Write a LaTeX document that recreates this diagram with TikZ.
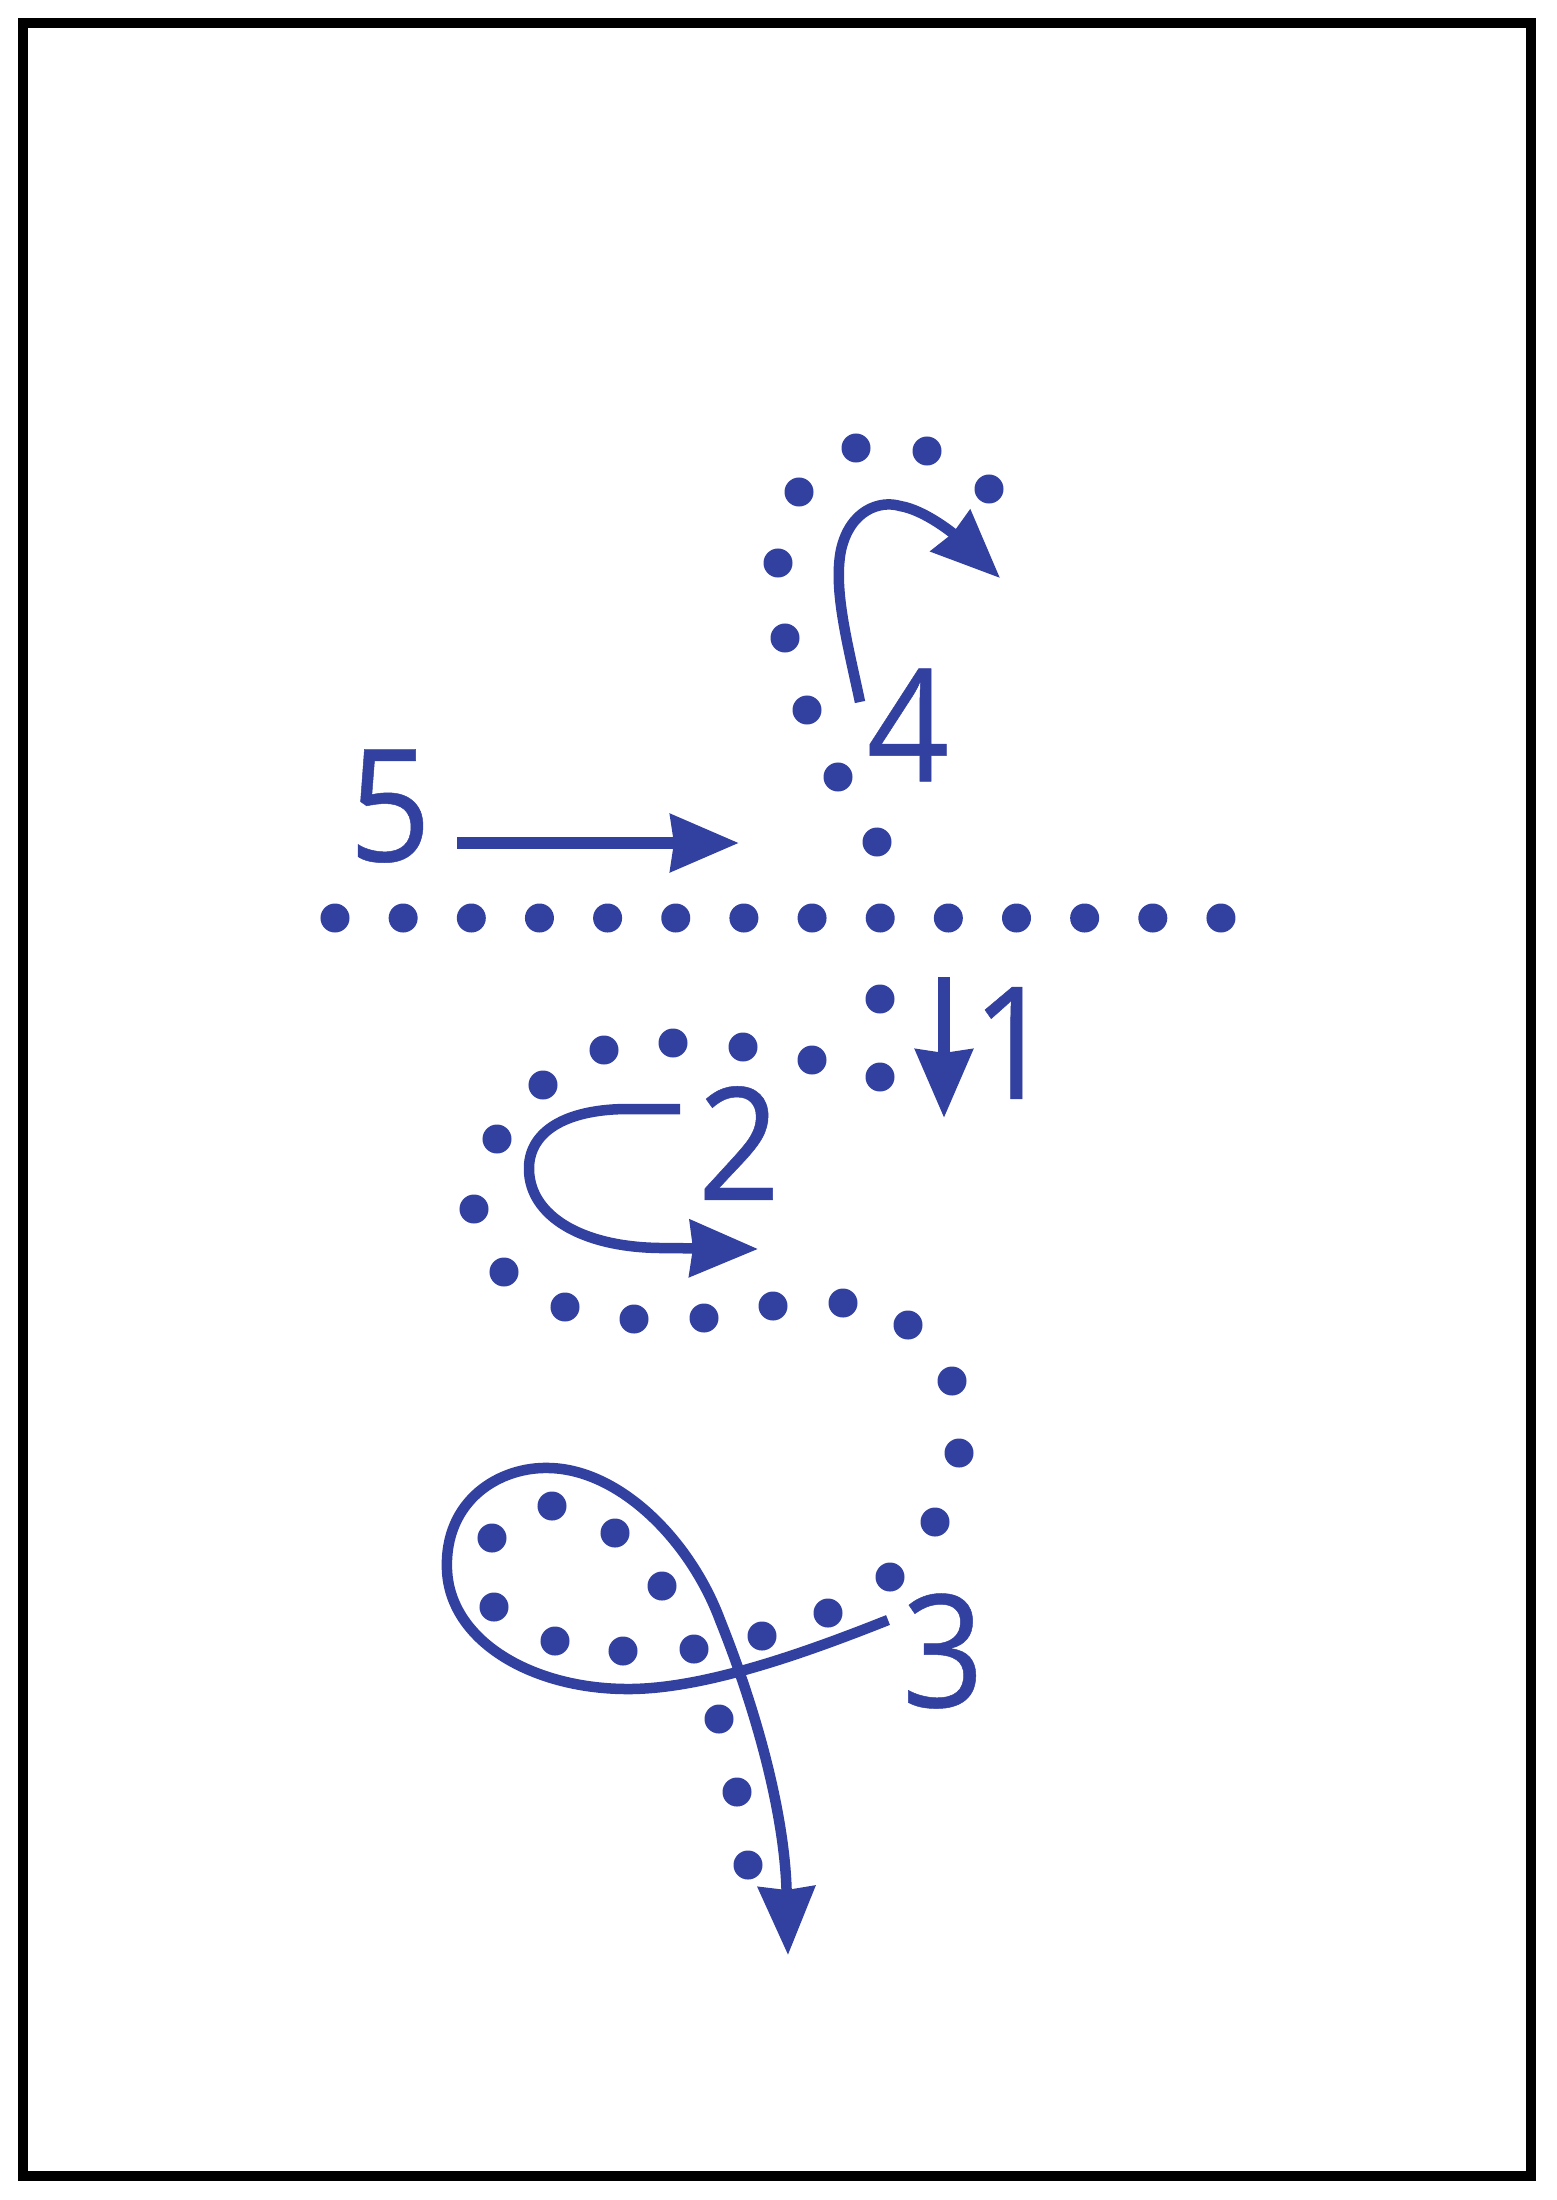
\documentclass[tikz,border=0pt]{standalone}
\usepackage{fontspec}
\setmainfont{Open Sans}
\newfontfamily\numfont[FakeStretch=0.92, FakeBold=0.3]{Open Sans}
\usepackage{tikz}
\usetikzlibrary{arrows.meta, calc}
\definecolor{inkblue}{RGB}{50,64,160}

\begin{document}
\begin{tikzpicture}[x=0.01cm, y=-0.01cm,
    dot/.style={fill=inkblue},
    move/.style={draw=inkblue, line width=0.105cm, -{Stealth[length=0.68cm, width=0.56cm, inset=0.03cm]}},
    num/.style={text=inkblue, inner sep=0pt, font=\numfont\fontsize{44.6}{46}\selectfont}]
    \useasboundingbox (0,0) rectangle (1556,2200);
    \draw[line width=0.1cm] (23,23) rectangle (1531,2176);
    % row of dots across
    \foreach \i in {0,...,13} {
        \fill[dot] (335+68.15*\i, 918) circle[radius=0.145cm];
    }
    % dots above the row (4)
    \foreach \x/\y in {856/448, 927/451, 799/492, 989/489, 778/563, 785/638, 807/710, 838/777, 877/842} {
        \fill[dot] (\x,\y) circle[radius=0.145cm];
    }
    % dots below the row (1, 2)
    \foreach \x/\y in {880/999, 880/1077, 812/1060, 743/1047, 673/1043, 604/1050, 543/1085, 497/1139, 474/1209,
        504/1272, 565/1307, 634/1319, 704/1318, 773/1306, 843/1303, 908/1325} {
        \fill[dot] (\x,\y) circle[radius=0.145cm];
    }
    % dots down the right and round the loop (3)
    \foreach \x/\y in {952/1381, 959/1453, 935/1522, 890/1577, 828/1613, 762/1636, 694/1649, 623/1651, 555/1641,
        494/1607, 492/1538, 552/1506, 615/1533, 662/1586, 719/1719, 737/1792, 748/1865} {
        \fill[dot] (\x,\y) circle[radius=0.145cm];
    }
    % labels
    \node[num] (five) at (390,806) {5};
    \node[num] (four) at (908,725) {4};
    \node[num] (one) at (1013,1043) {1};
    \node[num] (two) at (739,1143) {2};
    \node[num] (three) at (943,1651) {3};
    % arrows
    \draw[move, line width=0.125cm] (457,843) -- (739,843);
    \draw[move, line width=0.125cm] (944,977) -- (944,1118);
    \draw[move] (860,702) .. controls (848,645) and (833,590) .. (841,550)
        .. controls (850,510) and (880,500) .. (900,506)
        .. controls (925,510) and (955,535) .. (1000,578);
    \draw[move] (680,1109) -- (625,1109) .. controls (560,1110) and (528,1135) .. (529,1170)
        .. controls (530,1215) and (580,1247) .. (660,1248) -- (758,1249);
    \draw[move] (888,1620) .. controls (800,1655) and (700,1690) .. (625,1689)
        .. controls (530,1688) and (450,1640) .. (447,1570)
        .. controls (444,1500) and (500,1466) .. (550,1468)
        .. controls (620,1470) and (690,1540) .. (720,1620)
        .. controls (760,1720) and (785,1820) .. (788,1955);
\end{tikzpicture}
\end{document}
